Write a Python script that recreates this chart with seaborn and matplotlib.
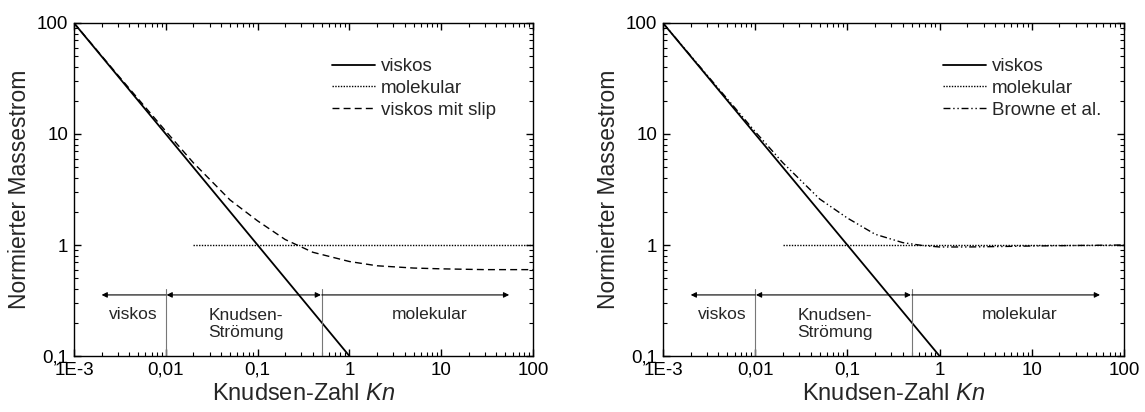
import numpy as np
import pandas as pd
import matplotlib
matplotlib.use("Agg")
import matplotlib.pyplot as plt
import seaborn as sns
from matplotlib.ticker import FixedLocator, FixedFormatter, LogLocator, NullFormatter

# --- data ---
kn_visc = [0.001, 0.01, 0.1, 1.0]
y_visc = [100.0, 10.0, 1.0, 0.1]

kn_mol = [0.02, 100.0]
y_mol = [1.0, 1.0]

kn_slip = [0.001, 0.003, 0.01, 0.02, 0.05, 0.1, 0.2, 0.4, 1.0, 2.0, 5.0, 10.0, 30.0, 100.0]
y_slip = [100.0, 34.0, 10.6, 5.5, 2.55, 1.65, 1.12, 0.86, 0.71, 0.65, 0.62, 0.61, 0.60, 0.60]

kn_browne = [0.001, 0.003, 0.01, 0.02, 0.05, 0.1, 0.2, 0.4, 0.65, 1.0, 2.0, 5.0, 10.0, 30.0, 100.0]
y_browne = [100.0, 34.0, 10.5, 5.5, 2.6, 1.75, 1.25, 1.05, 0.99, 0.96, 0.96, 0.97, 0.98, 0.99, 1.0]

xtick_vals = [0.001, 0.01, 0.1, 1, 10, 100]
xtick_labels = ["1E-3", "0,01", "0,1", "1", "10", "100"]
ytick_vals = [0.1, 1, 10, 100]
ytick_labels = ["0,1", "1", "10", "100"]

regime_bounds = [0.01, 0.5]
regime_arrow_ends = [0.002, 55.0]
regime_labels = ["viskos", "Knudsen-\nStrömung", "molekular"]
regime_label_x = [0.0044, 0.074, 7.4]

sns.set_style("ticks")
plt.rcParams['font.family'] = ['Liberation Sans', 'DejaVu Sans']
plt.rcParams['mathtext.fontset'] = 'custom'
plt.rcParams['mathtext.it'] = 'Liberation Sans:italic'
plt.rcParams['mathtext.rm'] = 'Liberation Sans'

fig = plt.figure(figsize=(11.45, 4.12), dpi=100)
ax1 = fig.add_axes([0.0646, 0.1359, 0.4009, 0.8083])
ax2 = fig.add_axes([0.5790, 0.1359, 0.4026, 0.8083])

def draw(ax, third_x, third_y, third_label, third_style, leg_x):
    sns.lineplot(x=kn_visc, y=y_visc, ax=ax, color="black", lw=1.3, label="viskos")
    sns.lineplot(x=kn_mol, y=y_mol, ax=ax, color="black", lw=1.0, ls=(0, (1, 1)), label="molekular")
    sns.lineplot(x=third_x, y=third_y, ax=ax, color="black", lw=1.0, ls=third_style, label=third_label)
    ax.set_xscale("log")
    ax.set_yscale("log")
    ax.set_xlim(0.001, 100)
    ax.set_ylim(0.1, 100)
    ax.xaxis.set_major_locator(FixedLocator(xtick_vals))
    ax.xaxis.set_major_formatter(FixedFormatter(xtick_labels))
    ax.yaxis.set_major_locator(FixedLocator(ytick_vals))
    ax.yaxis.set_major_formatter(FixedFormatter(ytick_labels))
    ax.xaxis.set_minor_locator(LogLocator(base=10, subs=np.arange(2, 10)))
    ax.yaxis.set_minor_locator(LogLocator(base=10, subs=np.arange(2, 10)))
    ax.xaxis.set_minor_formatter(NullFormatter())
    ax.yaxis.set_minor_formatter(NullFormatter())
    ax.tick_params(which="both", direction="in", top=True, right=True, colors="black", labelsize=13.5)
    ax.tick_params(which="major", length=5, width=1, pad=4)
    ax.tick_params(which="minor", length=3, width=0.8)
    for s in ax.spines.values():
        s.set_visible(True)
        s.set_linewidth(1.0)
        s.set_color("black")
    ax.set_xlabel("Knudsen-Zahl $Kn$", fontsize=17, labelpad=3)
    ax.set_ylabel("Normierter Massestrom", fontsize=16.5, labelpad=4)
    ax.legend(loc="upper left", bbox_to_anchor=(leg_x, 0.895), frameon=False, fontsize=13.5,
              handlelength=2.3, handletextpad=0.3, labelspacing=0.25, borderaxespad=0, borderpad=0)
    # regime annotations
    yarr = 0.355
    ax.annotate("", xy=(regime_arrow_ends[0], yarr), xytext=(regime_bounds[0], yarr),
                arrowprops=dict(arrowstyle="-|>", color="black", lw=0.8, mutation_scale=8, shrinkA=0, shrinkB=0))
    ax.annotate("", xy=(regime_bounds[0] * 1.02, yarr), xytext=(regime_bounds[1] * 0.98, yarr),
                arrowprops=dict(arrowstyle="<|-|>", color="black", lw=0.8, mutation_scale=8, shrinkA=0, shrinkB=0))
    ax.annotate("", xy=(regime_arrow_ends[1], yarr), xytext=(regime_bounds[1], yarr),
                arrowprops=dict(arrowstyle="-|>", color="black", lw=0.8, mutation_scale=8, shrinkA=0, shrinkB=0))
    for b in regime_bounds:
        ax.plot([b, b], [0.1, 0.4], color="#777777", lw=0.8)
    ax.text(regime_label_x[0], 0.239, regime_labels[0], ha="center", va="center", fontsize=12.5)
    ax.text(regime_label_x[1], 0.195, regime_labels[1], ha="center", va="center", fontsize=12.5, linespacing=1.2)
    ax.text(regime_label_x[2], 0.239, regime_labels[2], ha="center", va="center", fontsize=12.5)

draw(ax1, kn_slip, y_slip, "viskos mit slip", (0, (5, 3)), 0.562)
draw(ax2, kn_browne, y_browne, "Browne et al.", (0, (5, 2, 1, 2, 1, 2)), 0.607)

fig.savefig("out.png", dpi=100)
